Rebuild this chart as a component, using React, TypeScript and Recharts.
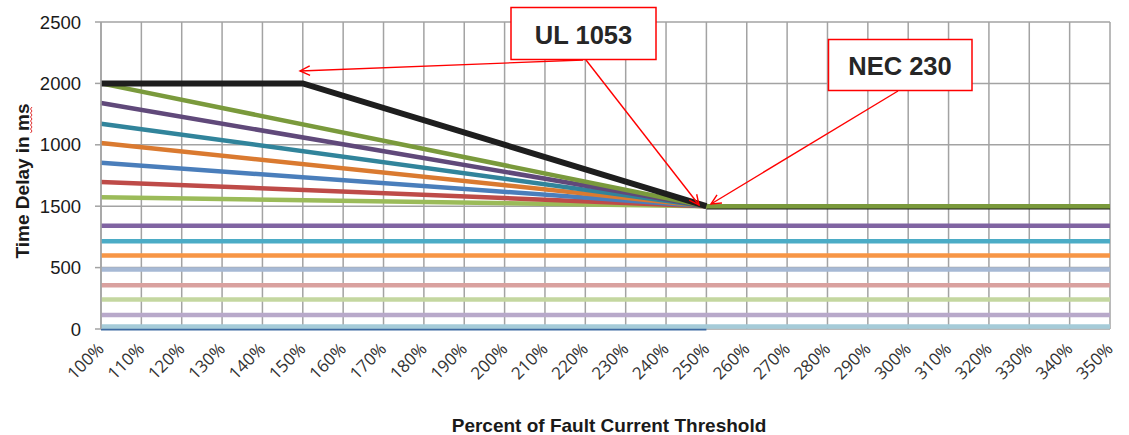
import React from 'react';
import { LineChart, Line, XAxis, YAxis, CartesianGrid } from 'recharts';

// ---------- data ----------
const categories = [
  '100%', '110%', '120%', '130%', '140%', '150%', '160%', '170%', '180%', '190%',
  '200%', '210%', '220%', '230%', '240%', '250%', '260%', '270%', '280%', '290%',
  '300%', '310%', '320%', '330%', '340%', '350%',
];

const yTicks = [0, 500, 1000, 1500, 2000, 2500];
const yTickLabels = ['0', '500', '1500', '1000', '2000', '2500'];

// each series: [category, value] points (straight segments between them)
const ul1053 = [['100%', 2000], ['150%', 2000], ['250%', 1000]];
const ul1053Tail = [['250%', 993], ['350%', 993]];
const olive = [['100%', 2000], ['250%', 1000], ['350%', 1000]];
const purpleSlope = [['100%', 1840], ['250%', 1000]];
const tealSlope = [['100%', 1672], ['250%', 1000]];
const orangeSlope = [['100%', 1515], ['250%', 1000]];
const blueSlope = [['100%', 1353], ['250%', 1000]];
const redSlope = [['100%', 1198], ['250%', 1000]];
const greenSlope = [['100%', 1073], ['250%', 1000]];
const purpleFlat = [['100%', 840], ['350%', 840]];
const cyanFlat = [['100%', 715], ['350%', 715]];
const orangeFlat = [['100%', 598], ['350%', 598]];
const steelFlat = [['100%', 484], ['350%', 484]];
const pinkFlat = [['100%', 356], ['350%', 356]];
const paleGreenFlat = [['100%', 240], ['350%', 240]];
const lavenderFlat = [['100%', 114], ['350%', 114]];
const paleBlueFlat = [['100%', 20], ['350%', 20]];
const darkBlueFlat = [['100%', 0], ['250%', 0]];

type S = { key: string; pts: (string | number)[][]; color: string; width: number };

// drawing order: first = bottom
const series: S[] = [
  { key: 'ulTail', pts: ul1053Tail, color: '#1E1E1E', width: 5 },
  { key: 'darkBlue', pts: darkBlueFlat, color: '#3D6AA1', width: 3 },
  { key: 'paleBlue', pts: paleBlueFlat, color: '#A5CBD8', width: 4.5 },
  { key: 'lavender', pts: lavenderFlat, color: '#B8A9CA', width: 4.5 },
  { key: 'paleGreen', pts: paleGreenFlat, color: '#C4D7A0', width: 4.5 },
  { key: 'pink', pts: pinkFlat, color: '#D9A19F', width: 4.5 },
  { key: 'steel', pts: steelFlat, color: '#A6B9D5', width: 4.5 },
  { key: 'orangeFlat', pts: orangeFlat, color: '#F79646', width: 4.5 },
  { key: 'cyanFlat', pts: cyanFlat, color: '#4BACC6', width: 4.5 },
  { key: 'purpleFlat', pts: purpleFlat, color: '#8064A2', width: 4.5 },
  { key: 'greenSlope', pts: greenSlope, color: '#9BBB59', width: 4.5 },
  { key: 'redSlope', pts: redSlope, color: '#BE4B48', width: 4.5 },
  { key: 'blueSlope', pts: blueSlope, color: '#4A7EBB', width: 4.5 },
  { key: 'orangeSlope', pts: orangeSlope, color: '#DA7A30', width: 4.5 },
  { key: 'tealSlope', pts: tealSlope, color: '#31849B', width: 4.5 },
  { key: 'purpleSlope', pts: purpleSlope, color: '#60497A', width: 4.5 },
  { key: 'olive', pts: olive, color: '#7A9A3C', width: 4.5 },
  { key: 'ul1053', pts: ul1053, color: '#1E1E1E', width: 6 },
];

const data = categories.map((c) => {
  const row: Record<string, string | number | null> = { cat: c };
  series.forEach((s) => {
    const p = s.pts.find((q) => q[0] === c);
    row[s.key] = p ? (p[1] as number) : null;
  });
  return row;
});

// ---------- ticks ----------
const XTick = (props: any) => {
  const { x, y, payload } = props;
  const ax = x + 4;
  const ay = y + 21;
  return (
    <text
      x={ax}
      y={ay}
      transform={`rotate(-45, ${ax}, ${ay})`}
      textAnchor="end"
      fontFamily="'Open Sans', sans-serif"
      fontSize={17}
      fill="#333333"
    >
      {payload.value}
    </text>
  );
};

// ---------- annotation helpers ----------
const arrowHead = (x1: number, y1: number, x2: number, y2: number, len = 11, spread = 0.45) => {
  const a = Math.atan2(y1 - y2, x1 - x2);
  const p1 = [x2 + len * Math.cos(a + spread), y2 + len * Math.sin(a + spread)];
  const p2 = [x2 + len * Math.cos(a - spread), y2 + len * Math.sin(a - spread)];
  return `M${p1[0]},${p1[1]} L${x2},${y2} L${p2[0]},${p2[1]}`;
};

const Arrow = ({ x1, y1, x2, y2 }: { x1: number; y1: number; x2: number; y2: number }) => (
  <g stroke="#FF0000" strokeWidth={1.4} fill="none">
    <line x1={x1} y1={y1} x2={x2} y2={y2} />
    <path d={arrowHead(x1, y1, x2, y2)} />
  </g>
);

export default function App() {
  return (
    <div style={{ position: 'absolute', left: 0, top: 0, width: 1129, height: 435, background: '#fff' }}>
      <LineChart
        width={1129}
        height={435}
        data={data}
        margin={{ top: 22, right: 19, bottom: 40, left: 40 }}
      >
        <CartesianGrid stroke="#A3A3A3" strokeWidth={1.5} />
        <XAxis
          dataKey="cat"
          interval={0}
          height={66}
          tickLine={false}
          tickSize={0}
          tickMargin={0}
          axisLine={false}
          tick={<XTick />}
        />
        <YAxis
          type="number"
          domain={[0, 2500]}
          ticks={yTicks}
          interval={0}
          width={61}
          tickSize={6}
          tickMargin={14}
          tickFormatter={(v: number) => yTickLabels[yTicks.indexOf(v)]}
          axisLine={{ stroke: '#A3A3A3', strokeWidth: 1.5 }}
          tickLine={{ stroke: '#A3A3A3', strokeWidth: 1.5 }}
          tick={{ fontSize: 18.5, fill: '#1A1A1A', fontFamily: "'Liberation Sans', Arial, sans-serif" }}
        />
        {series.map((s) => (
          <Line
            key={s.key}
            dataKey={s.key}
            type="linear"
            stroke={s.color}
            strokeWidth={s.width}
            dot={false}
            activeDot={false}
            connectNulls
            isAnimationActive={false}
          />
        ))}
      </LineChart>
      <svg
        width={1129}
        height={435}
        style={{ position: 'absolute', left: 0, top: 0, pointerEvents: 'none' }}
        fontFamily="'Liberation Sans', Arial, sans-serif"
      >
        {/* axis titles */}
        <text x={609} y={432} textAnchor="middle" fontWeight="bold" fontSize={19} fill="#1A1A1A">
          Percent of Fault Current Threshold
        </text>
        <text
          x={29}
          y={181}
          transform="rotate(-90, 29, 181)"
          textAnchor="middle"
          fontWeight="bold"
          fontSize={19}
          fill="#1A1A1A"
        >
          Time Delay in ms
        </text>
        <polyline
          points="32,107 30.5,109 32,111 30.5,113 32,115 30.5,117 32,119 30.5,121 32,123 30.5,125 32,127 30.5,129 32,131 30.5,133"
          stroke="#E03030"
          strokeWidth={1}
          fill="none"
        />
        {/* callouts */}
        <Arrow x1={583} y1={60} x2={300} y2={71} />
        <Arrow x1={586} y1={60} x2={699} y2={205} />
        <Arrow x1={898} y1={91} x2={711} y2={204} />
        <rect x={511} y={7.5} width={145} height={52} fill="#FFFFFF" stroke="#FF0000" strokeWidth={1.5} />
        <text x={583.5} y={44} textAnchor="middle" fontWeight="bold" fontSize={25.5} fill="#262626">
          UL 1053
        </text>
        <rect x={828.5} y={39.5} width={143.5} height={51} fill="#FFFFFF" stroke="#FF0000" strokeWidth={1.5} />
        <text x={900} y={75} textAnchor="middle" fontWeight="bold" fontSize={25.5} fill="#262626">
          NEC 230
        </text>
      </svg>
    </div>
  );
}
